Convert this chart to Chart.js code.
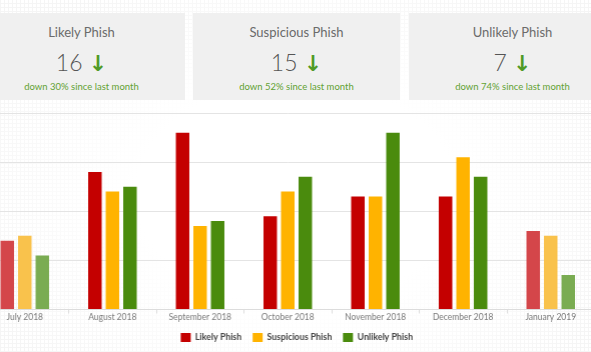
<!DOCTYPE html>
<html>
<head>
<meta charset="utf-8">
<script src="https://cdn.jsdelivr.net/npm/chart.js@4/dist/chart.umd.min.js"></script>
<style>
  html, body { margin: 0; padding: 0; }
  body {
    width: 591px; height: 352px; overflow: hidden; position: relative;
    font-family: Lato, "Open Sans", sans-serif;
    background:
      radial-gradient(ellipse 60% 70% at 50% 55%, #fff 45%, rgba(255,255,255,0) 100%),
      repeating-linear-gradient(0deg, #f5f5f5 0 1px, transparent 1px 4px),
      repeating-linear-gradient(90deg, #f5f5f5 0 1px, transparent 1px 4px),
      #fff;
  }
  .card {
    position: absolute; top: 13px; width: 207px; height: 87px;
    background: rgba(239,239,239,0.92); text-align: center;
  }
  .card .title { position: absolute; left: 0; right: 0; top: 11px; font-size: 13px; color: #6b6b6b; }
  .card .num { position: absolute; left: 0; right: 0; top: 38px; font-size: 23px; color: #555; font-weight: 300; line-height: 1; }
  .card .num span { color: #4f9a26; font-weight: bold; font-family: "DejaVu Sans", sans-serif; font-size: 22px; }
  .card .sub { position: absolute; left: 0; right: 0; top: 68px; font-size: 9.5px; color: #62a232; }
  #wrap { position: absolute; left: -18.75px; top: 105px; width: 612.5px; height: 247px; }
</style>
</head>
<body>
<div id="cards"></div>
<div id="wrap"><canvas id="chart"></canvas></div>
<script>
// ---------------- DATA ----------------
const months = ["July 2018", "August 2018", "September 2018", "October 2018", "November 2018", "December 2018", "January 2019"];
const likely = [14, 28, 36, 19, 23, 23, 16];
const suspicious = [15, 24, 17, 24, 23, 31, 15];
const unlikely = [11, 25, 18, 27, 36, 27, 7];

const cardTitles = ["Likely Phish", "Suspicious Phish", "Unlikely Phish"];
const cardValues = [16, 15, 7];
const cardChanges = [30, 52, 74];

// ---------------- CARDS ----------------
const cardLeft = [-22, 193, 409];
const cards = document.getElementById("cards");
cardTitles.forEach((t, i) => {
  const c = document.createElement("div");
  c.className = "card";
  c.style.left = cardLeft[i] + "px";
  c.innerHTML = `<div class="title">${t}</div>` +
    `<div class="num">${cardValues[i]} <span>↓</span></div>` +
    `<div class="sub">down ${cardChanges[i]}% since last month</div>`;
  cards.appendChild(c);
});

// ---------------- CHART ----------------
const fullColors = ["#c40000", "#ffb300", "#4a8b0d"];
const fadedColors = ["#d4464a", "#f9c24c", "#7aac52"];

// edge months are drawn faded
function colorFor(i) {
  return ctx => (ctx.dataIndex === 0 || ctx.dataIndex === months.length - 1) ? fadedColors[i] : fullColors[i];
}

// canvas is wider than the page; centre the legend on the visible part
const shiftLegend = {
  id: "shiftLegend",
  afterLayout(chart) {
    chart.legend.left += 9;
    chart.legend.right += 9;
  }
};

const ctx = document.getElementById("chart").getContext("2d");
new Chart(ctx, {
  type: "bar",
  data: {
    labels: months,
    datasets: [
      { label: "Likely Phish", data: likely, backgroundColor: colorFor(0) },
      { label: "Suspicious Phish", data: suspicious, backgroundColor: colorFor(1) },
      { label: "Unlikely Phish", data: unlikely, backgroundColor: colorFor(2) }
    ]
  },
  plugins: [shiftLegend],
  options: {
    responsive: true,
    maintainAspectRatio: false,
    animation: false,
    categoryPercentage: 0.6,
    barPercentage: 0.77,
    layout: { padding: { top: 8, bottom: 0, left: 0, right: 0 } },
    plugins: {
      tooltip: { enabled: false },
      legend: {
        position: "bottom",
        labels: {
          boxWidth: 10, boxHeight: 9, padding: 11,
          color: "#444",
          font: { family: "Lato", size: 8.8, weight: "bold" },
          generateLabels: chart => chart.data.datasets.map((ds, i) => ({
            text: ds.label, fillStyle: fullColors[i], strokeStyle: fullColors[i],
            lineWidth: 0, datasetIndex: i, fontColor: "#444"
          }))
        }
      }
    },
    scales: {
      x: {
        grid: { drawOnChartArea: false, drawTicks: true, tickLength: 4, color: "#dddddd" },
        border: { color: "#dcdcdc" },
        ticks: { color: "#7a7a7a", padding: 0, font: { family: "Lato", size: 8.5, lineHeight: 1 } }
      },
      y: {
        min: 0, max: 40,
        ticks: { display: false, stepSize: 10 },
        border: { display: false },
        grid: { drawTicks: false, color: "#e4e4e4" }
      }
    }
  }
});
</script>
</body>
</html>
